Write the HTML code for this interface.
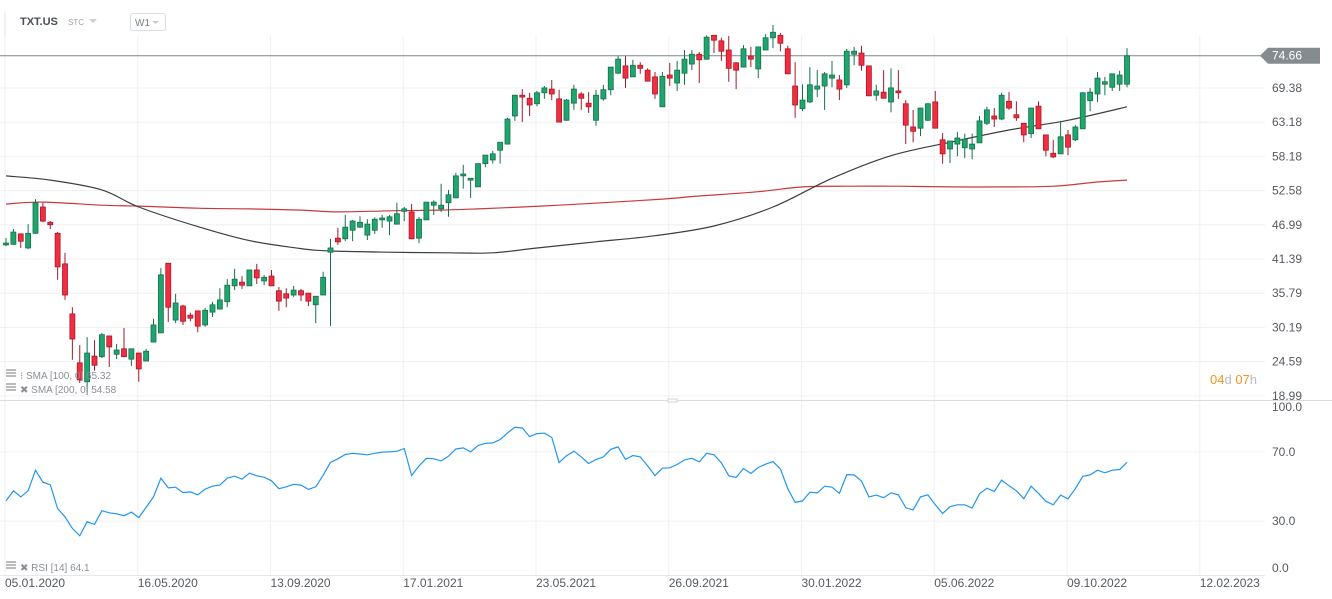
<!DOCTYPE html>
<html><head><meta charset="utf-8"><style>
html,body{margin:0;padding:0;background:#fff;}
svg{display:block;font-family:"Liberation Sans",sans-serif;}
</style></head><body>
<svg id="chart" width="1332" height="599" viewBox="0 0 1332 599" xmlns="http://www.w3.org/2000/svg">
<g id="grid"></g>
<g id="header">
  <line x1="5" y1="12" x2="5" y2="36" stroke="#e6e6e6"/>
  <text x="20" y="25" font-size="11" font-weight="bold" fill="#4a4f57">TXT.US</text>
  <text x="68" y="25" font-size="8" fill="#9aa0a6">STC</text>
  <path d="M89 19 L97 19 L93 23 Z" fill="#c8ccd0"/>
  <rect x="130.5" y="13.5" width="35" height="17" rx="2" fill="#fff" stroke="#dcdfe2"/>
  <text x="135" y="26" font-size="10" fill="#7a7f86">W1</text>
  <path d="M152 21 L159 21 L155.5 24 Z" fill="#c8ccd0"/>
</g>
<g id="sma200"></g>
<g id="sma100"></g>
<g id="candles"></g>
<g id="rsi"></g>
<g id="axes"></g>
<g font-size="10" fill="#8a8f96">
  <rect x="6" y="369" width="10" height="2" fill="#bbb"/><rect x="6" y="372" width="10" height="2" fill="#bbb"/><rect x="6" y="375" width="10" height="2" fill="#bbb"/>
  <text x="20" y="379">⁝ SMA  [100, 0]  65.32</text>
  <rect x="6" y="383" width="10" height="2" fill="#bbb"/><rect x="6" y="386" width="10" height="2" fill="#bbb"/><rect x="6" y="389" width="10" height="2" fill="#bbb"/>
  <text x="20" y="393">✖ SMA  [200,  0]  54.58</text>
  <rect x="6" y="561" width="10" height="2" fill="#bbb"/><rect x="6" y="564" width="10" height="2" fill="#bbb"/><rect x="6" y="567" width="10" height="2" fill="#bbb"/>
  <text x="20" y="571">✖ RSI  [14]  64.1</text>
</g>
<text x="1210" y="384" font-size="13"><tspan fill="#f7931e">04</tspan><tspan fill="#b8bcc0">d </tspan><tspan fill="#f7931e">07</tspan><tspan fill="#b8bcc0">h</tspan></text>
</svg>
<script>
const opens=[43.7,43.8,45.5,43.2,45.6,49.9,47.4,45.6,40.6,32.4,24.4,21.3,25.5,25.4,28.8,25.8,26.7,25.0,26.0,24.7,27.8,29.3,40.7,31.4,33.7,32.2,32.9,30.6,32.7,33.2,34.4,37.0,37.6,37.0,39.6,37.8,38.6,36.2,35.7,35.5,36.2,35.8,33.9,35.5,42.5,44.8,44.7,46.1,46.6,45.3,46.1,47.8,47.6,47.1,49.2,49.1,44.8,47.8,50.2,49.6,50.6,51.4,55.0,54.3,53.2,57.0,57.6,59.2,60.2,64.8,68.2,67.7,66.8,68.6,69.2,67.6,64.1,66.9,68.4,66.9,64.1,67.6,69.1,71.8,73.0,71.2,73.1,72.3,71.2,66.3,71.5,70.2,71.8,73.3,74.9,74.1,78.0,77.1,75.6,73.5,72.8,74.6,72.5,75.6,77.6,78.0,75.8,69.7,66.0,67.1,69.2,69.7,71.0,70.7,69.9,74.9,75.1,73.0,68.2,68.7,67.1,68.9,66.8,63.0,62.8,64.1,67.1,60.9,59.4,60.2,59.6,59.4,60.4,63.6,64.8,64.3,67.2,65.0,63.6,61.9,66.4,61.7,58.7,58.6,61.7,60.9,62.7,67.3,68.4,70.0,69.5,70.0,70.0];
const highs=[44.8,46.3,45.6,47.1,51.2,50.6,47.6,45.8,42.4,33.5,27.3,28.6,28.1,29.3,28.8,27.5,30.1,26.7,26.0,26.7,31.6,39.9,40.7,35.7,33.9,32.6,32.9,33.4,34.4,36.6,38.1,39.8,38.6,39.6,40.6,38.8,39.6,36.8,36.6,37.0,36.5,35.8,35.3,39.3,44.7,46.5,48.6,47.8,48.4,47.9,48.2,48.6,48.6,50.6,49.9,50.4,48.3,50.7,51.0,53.7,52.7,55.5,56.8,54.6,57.0,58.4,59.1,60.5,64.5,68.2,69.2,68.6,68.9,69.7,70.7,69.1,67.6,69.9,68.7,68.7,69.1,69.9,72.8,74.6,74.6,74.0,73.6,72.6,72.0,72.0,73.5,73.8,75.6,75.6,75.3,78.0,78.0,77.6,77.9,73.6,76.4,76.1,76.1,78.2,79.7,78.4,76.3,73.6,70.0,72.8,72.3,72.0,73.8,71.5,75.8,76.1,76.3,73.0,69.9,72.3,72.6,72.3,67.4,65.8,66.1,66.9,68.9,62.0,60.7,62.2,61.9,61.9,64.8,66.3,66.1,68.6,68.7,67.2,63.6,66.1,67.2,61.7,60.9,64.0,62.5,63.3,68.7,69.4,72.0,71.2,71.7,72.2,75.9];
const lows=[43.5,43.7,43.2,43.0,45.5,47.4,46.3,38.0,34.7,24.9,21.1,19.5,23.1,25.2,23.7,25.0,25.4,23.9,21.3,24.7,27.8,29.3,31.1,30.9,30.6,31.2,29.4,30.3,31.9,33.2,33.5,36.3,36.5,37.0,37.3,37.1,37.0,32.9,33.5,35.2,34.5,33.7,30.9,35.5,30.4,43.7,44.3,44.3,46.5,44.5,45.5,46.5,45.3,47.1,47.6,44.7,44.0,47.8,48.6,49.1,48.3,51.4,52.9,51.4,53.2,56.4,57.0,57.0,60.2,64.0,63.8,64.8,66.4,67.6,67.4,63.8,64.0,65.8,65.8,65.3,63.2,67.3,68.2,71.7,69.4,71.2,71.7,70.5,67.6,66.3,69.7,68.9,69.9,72.3,70.2,74.0,75.1,73.8,70.4,69.2,72.8,72.8,71.0,75.6,75.9,75.4,71.7,64.5,65.6,66.9,67.9,65.8,69.5,67.4,69.4,73.1,72.2,68.1,67.3,67.7,65.4,67.6,60.2,60.5,61.5,64.0,62.8,57.0,57.1,58.2,57.9,57.7,60.4,63.3,63.0,64.1,65.8,64.0,60.5,61.2,62.7,58.2,57.9,58.6,58.4,60.7,62.7,65.6,67.1,68.2,68.9,68.9,69.5];
const closes=[44.0,45.8,44.3,45.6,50.6,47.6,47.0,40.1,35.5,28.3,21.6,26.0,24.0,29.0,27.0,26.5,25.4,26.7,23.4,26.3,30.6,38.8,33.5,34.2,31.2,31.7,30.4,33.0,33.9,34.7,37.1,38.1,37.1,39.6,38.3,38.4,37.0,34.5,35.0,36.3,35.5,34.5,35.3,38.4,43.2,44.2,46.6,47.6,47.4,47.1,47.9,48.1,48.3,48.8,49.6,44.7,47.9,50.7,50.7,50.2,51.9,55.0,55.3,54.6,57.0,58.4,58.6,60.5,64.3,68.2,67.9,66.6,68.6,69.4,68.4,63.8,67.4,69.2,67.7,66.3,68.2,69.1,72.8,74.1,71.0,73.1,72.6,70.5,68.4,71.3,71.0,72.3,74.1,74.9,74.0,77.7,77.2,75.4,72.6,72.3,75.8,74.1,76.1,77.6,78.5,76.7,71.7,66.6,67.4,69.9,69.7,71.7,71.5,69.2,75.4,75.4,73.1,68.1,68.9,67.7,69.4,68.6,63.3,62.3,66.1,66.8,62.8,58.6,60.7,61.2,61.0,60.2,64.0,65.8,64.3,68.2,66.1,64.5,61.7,66.1,62.7,59.2,58.1,61.4,59.7,63.0,68.6,68.7,71.0,70.4,71.7,71.5,74.66];
const rsiValues=[41.7,47.5,44.0,47.5,59.4,52.5,51.0,37.3,32.5,25.8,21.5,29.6,28.1,36.0,34.8,34.2,33.1,35.2,32.1,37.9,44.0,54.8,49.2,49.6,46.5,46.9,45.2,48.5,50.2,50.8,54.8,56.0,54.2,57.7,56.2,55.4,53.3,48.7,49.8,51.3,50.8,48.3,49.8,56.5,64.0,66.0,68.5,69.2,68.8,68.3,69.2,69.8,70.0,70.4,71.9,56.3,61.9,66.3,66.0,64.8,67.5,71.7,72.3,70.0,73.7,75.0,75.2,77.1,81.0,84.2,83.8,78.8,80.6,80.8,78.3,63.8,67.8,70.4,67.1,63.3,65.6,67.1,71.5,72.9,65.6,67.9,67.1,61.9,56.3,60.6,60.8,62.7,65.4,66.3,64.2,69.2,68.3,63.7,56.2,55.2,60.4,57.5,61.0,62.9,64.4,60.2,48.7,40.8,41.7,46.7,46.3,50.2,49.6,46.0,56.9,56.7,53.1,44.0,45.0,43.5,46.3,45.2,37.7,36.5,44.0,45.2,39.4,34.4,38.3,39.4,39.4,37.5,45.8,49.0,47.1,53.7,50.4,47.5,42.9,50.2,46.0,41.5,39.4,45.0,42.9,48.8,55.9,56.7,59.4,57.9,59.4,59.8,64.0];
const sma100Idx=[0,6,13,18,26,33,40,44,52,60,66,72,80,88,96,104,112,120,128,136,144,152];
const sma100Val=[55.0,54.3,52.7,49.9,46.7,44.4,43.1,42.7,42.5,42.4,42.4,43.2,44.2,45.2,46.8,49.9,54.6,58.3,60.5,62.5,64.1,66.3];
const sma200Idx=[0,5,13,18,26,33,40,45,53,59,64,70,75,81,89,94,102,108,114,121,128,135,142,148,152];
const sma200Val=[50.4,50.7,50.2,50.05,49.7,49.6,49.4,49.1,49.3,49.4,49.6,49.9,50.2,50.6,51.2,51.7,52.4,53.2,53.3,53.3,53.2,53.2,53.3,54.0,54.3];
const priceTickVals=[69.38,63.78,58.18,52.58,46.99,41.39,35.79,30.19,24.59,18.99];
const priceTickText=["69.38","63.18","58.18","52.58","46.99","41.39","35.79","30.19","24.59","18.99"];
const rsiTicks=[100,70,30,0];
const dateLabels=["05.01.2020","16.05.2020","13.09.2020","17.01.2021","23.05.2021","26.09.2021","30.01.2022","05.06.2022","09.10.2022","12.02.2023"];
const dateIdx=[0,18,36,54,72,90,108,126,144,162];
const lastPrice=74.66;

const NS="http://www.w3.org/2000/svg";
const xS=i=>6+i*7.375;
const yP=p=>88+(69.38-p)*6.11;
const yR=v=>573-v*1.73;
function mk(tag,attrs,parent){const e=document.createElementNS(NS,tag);for(const k in attrs)e.setAttribute(k,attrs[k]);parent.appendChild(e);return e;}

const grid=document.getElementById('grid');
priceTickVals.forEach((v,k)=>{
  const l=mk('line',{x1:0,x2:1265,y1:yP(v),y2:yP(v),stroke:'#f0f0f0','stroke-width':1},grid);
  
  
});
rsiTicks.forEach(v=>{
  if(v===100||v===0)return;
  const l=mk('line',{x1:0,x2:1265,y1:yR(v),y2:yR(v),stroke:'#f0f0f0'},grid);
  
  
});
dateIdx.forEach(i=>{
  const l=mk('line',{x1:xS(i)-1,x2:xS(i)-1,y1:36,y2:575,stroke:'#f0f0f0'},grid);
  
  
});
const div=mk('line',{x1:0,x2:1332,y1:400.5,y2:400.5,stroke:'#dcdcdc'},grid);


const hnd=mk('rect',{x:668,y:399,width:9,height:3,fill:'#fff',stroke:'#bbb','stroke-width':0.6},grid);


const bl=mk('line',{x1:0,x2:1265,y1:575.5,y2:575.5,stroke:'#e8e8e8'},grid);



// smooth SMA lines (Catmull-Rom)
function smooth(idx,vals,color,id,name){
  const g=document.getElementById(id);
  const P=idx.map((i,k)=>[xS(i),yP(vals[k])]);
  let d='M'+P[0][0].toFixed(1)+' '+P[0][1].toFixed(1);
  for(let k=0;k<P.length-1;k++){
    const p0=P[k-1]||P[k],p1=P[k],p2=P[k+1],p3=P[k+2]||P[k+1];
    const c1=[p1[0]+(p2[0]-p0[0])/6,p1[1]+(p2[1]-p0[1])/6];
    const c2=[p2[0]-(p3[0]-p1[0])/6,p2[1]-(p3[1]-p1[1])/6];
    d+=' C'+c1[0].toFixed(1)+' '+c1[1].toFixed(1)+','+c2[0].toFixed(1)+' '+c2[1].toFixed(1)+','+p2[0].toFixed(1)+' '+p2[1].toFixed(1);
  }
  const p=mk('path',{d:d,fill:'none',stroke:color,'stroke-width':1.2},g);
  
  
}
smooth(sma200Idx,sma200Val,'#c8393d','sma200','sma-200-path');
smooth(sma100Idx,sma100Val,'#3b3f44','sma100','sma-100-path');

const cpl=mk('line',{x1:0,x2:1262,y1:yP(lastPrice),y2:yP(lastPrice),stroke:'#7d8387','stroke-width':1},grid);



const cg=document.getElementById('candles');
closes.forEach((c,i)=>{
  const o=opens[i],h=highs[i],l=lows[i];
  const up=c>=o;
  const x=xS(i);
  const fill=up?'#1fa56d':'#f22d40', edge=up?'#15704c':'#a81828';
  const w=mk('line',{x1:x,x2:x,y1:yP(h),y2:yP(l),stroke:edge,'stroke-width':1},cg);
  
  
  const top=yP(Math.max(o,c)),bot=yP(Math.min(o,c));
  const r=mk('rect',{x:x-2.5,y:top,width:5,height:Math.max(1.5,bot-top),fill:fill,stroke:edge,'stroke-width':0.8},cg);
  
  
});

const rg=document.getElementById('rsi');
const rp=mk('polyline',{points:rsiValues.map((v,i)=>xS(i).toFixed(1)+','+yR(v).toFixed(1)).join(' '),fill:'none',stroke:'#2196f3','stroke-width':1.2},rg);



const ax=document.getElementById('axes');
priceTickVals.forEach((v,k)=>{
  const t=mk('text',{x:1272,y:yP(v)+4,'font-size':12,fill:'#555a60'},ax);
  t.textContent=priceTickText[k];
  
  
});
rsiTicks.forEach(v=>{
  let y=yR(v)+4; if(v===100)y=yR(v)+11; if(v===0)y=yR(v)-1;
  const t=mk('text',{x:1272,y:y,'font-size':12,fill:'#555a60'},ax);
  t.textContent=v.toFixed(1);
  
  
});
dateLabels.forEach((d,k)=>{
  const t=mk('text',{x:xS(dateIdx[k])-1,y:587,'font-size':12,fill:'#555a60'},ax);
  t.textContent=d;
  
  
});
const ly=yP(lastPrice);
const tag=mk('path',{d:`M1260 ${ly} L1268 ${ly-8} L1320 ${ly-8} L1320 ${ly+8} L1268 ${ly+8} Z`,fill:'#858c90'},ax);


const tt=mk('text',{x:1272,y:ly+4,'font-size':12,fill:'#ffffff'},ax);
tt.textContent=lastPrice.toFixed(2);


</script>
</body></html>
